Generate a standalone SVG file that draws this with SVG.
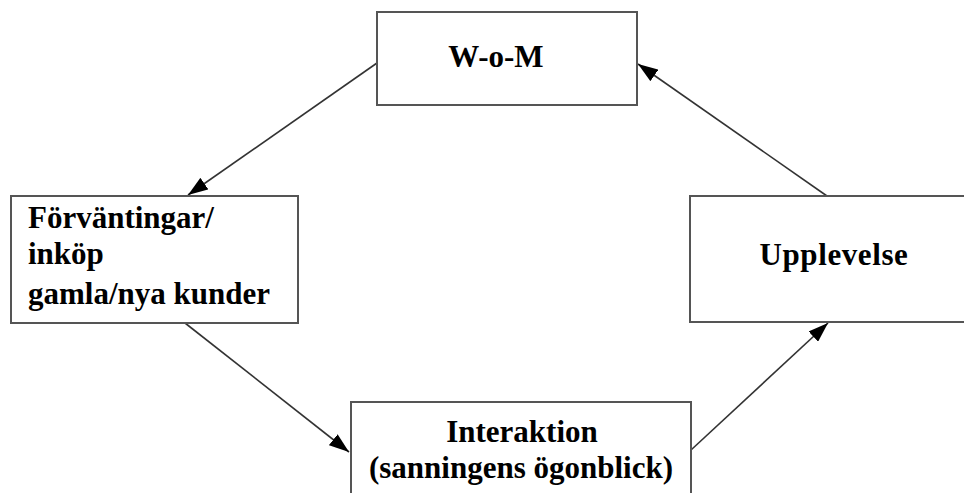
<svg xmlns="http://www.w3.org/2000/svg" width="964" height="493" viewBox="0 0 964 493">
  <style>
    .box { fill: #ffffff; stroke: #555555; stroke-width: 2; }
    .lbl { font-family: "Liberation Serif", "Times New Roman", "DejaVu Serif", serif; font-weight: bold; font-size: 31px; fill: #000000; }
    .mid { text-anchor: middle; }
    .conn { stroke: #333333; stroke-width: 1.6; fill: none; marker-end: url(#head); }
  </style>
  <defs>
    <marker id="head" viewBox="0 0 20 14" refX="20" refY="7" markerWidth="20" markerHeight="14" markerUnits="userSpaceOnUse" orient="auto">
      <path d="M0,0 L20,7 L0,14 Z" fill="#000000"/>
    </marker>
  </defs>
  <rect width="964" height="493" fill="#ffffff"/>

  <g id="connectors">
    <line class="conn" x1="377" y1="63" x2="188" y2="195"/>
    <line class="conn" x1="185" y1="323" x2="349" y2="452"/>
    <line class="conn" x1="691" y1="450" x2="828" y2="323"/>
    <line class="conn" x1="827" y1="196" x2="638" y2="64"/>
  </g>

  <g id="wom">
    <rect class="box" x="377" y="12" width="260" height="93"/>
    <text class="lbl mid" x="496" y="67">W-o-M</text>
  </g>

  <g id="forvantningar">
    <rect class="box" x="11" y="196" width="287" height="127"/>
    <text class="lbl" x="28" y="228">Förväntingar/</text>
    <text class="lbl" x="28" y="264">inköp</text>
    <text class="lbl" x="28" y="304">gamla/nya kunder</text>
  </g>

  <g id="upplevelse">
    <rect class="box" x="690" y="196" width="290" height="126"/>
    <text class="lbl mid" x="834" y="265" letter-spacing="0.6">Upplevelse</text>
  </g>

  <g id="interaktion">
    <rect class="box" x="351" y="402" width="340" height="110"/>
    <text class="lbl mid" x="522" y="442">Interaktion</text>
    <text class="lbl mid" x="521" y="478">(sanningens ögonblick)</text>
  </g>
</svg>
